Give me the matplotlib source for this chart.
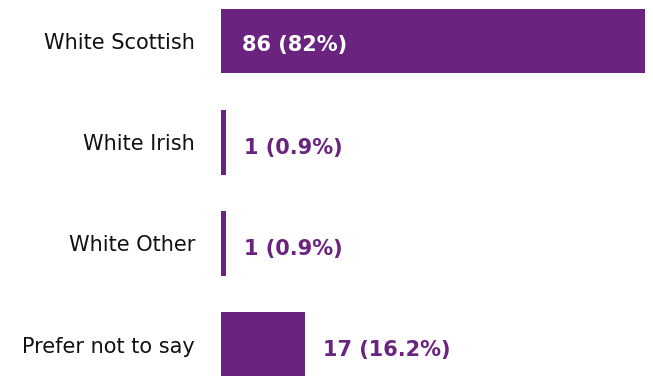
import matplotlib
matplotlib.use("Agg")
import matplotlib.pyplot as plt

categories = ["White Scottish", "White Irish", "White Other", "Prefer not to say"]
counts = [86, 1, 1, 17]
percents = ["82%", "0.9%", "0.9%", "16.2%"]

W, H = 653, 376
fig = plt.figure(figsize=(W / 100, H / 100), dpi=100)
purple = "#6a2480"

left_px, right_px = 221, 645
top_px = 8.6
ax = fig.add_axes([left_px / W, 0, (right_px - left_px) / W, 1 - top_px / H])
ypos = list(range(len(categories)))
ax.barh(ypos, counts, height=0.64, color=purple)
ax.set_xlim(0, 86)
ax.set_ylim(3.31, -0.32)
ax.axis("off")

for i, (cat, c, p) in enumerate(zip(categories, counts, percents)):
    ax.annotate(cat, xy=(0, i), xytext=(-18.7, -1.5), textcoords="offset points",
                ha="right", va="center", fontsize=15, color="#111111",
                family="DejaVu Sans", annotation_clip=False)
    label = f"{c} ({p})"
    if c > 40:
        ax.annotate(label, xy=(0, i), xytext=(15, -3), textcoords="offset points",
                    ha="left", va="center", fontsize=15, fontweight="bold",
                    color="white", family="DejaVu Sans")
    else:
        ax.annotate(label, xy=(c, i), xytext=(13, -4), textcoords="offset points",
                    ha="left", va="center", fontsize=15, fontweight="bold",
                    color=purple, family="DejaVu Sans", annotation_clip=False)

fig.savefig("out.png", dpi=100, facecolor="white")
